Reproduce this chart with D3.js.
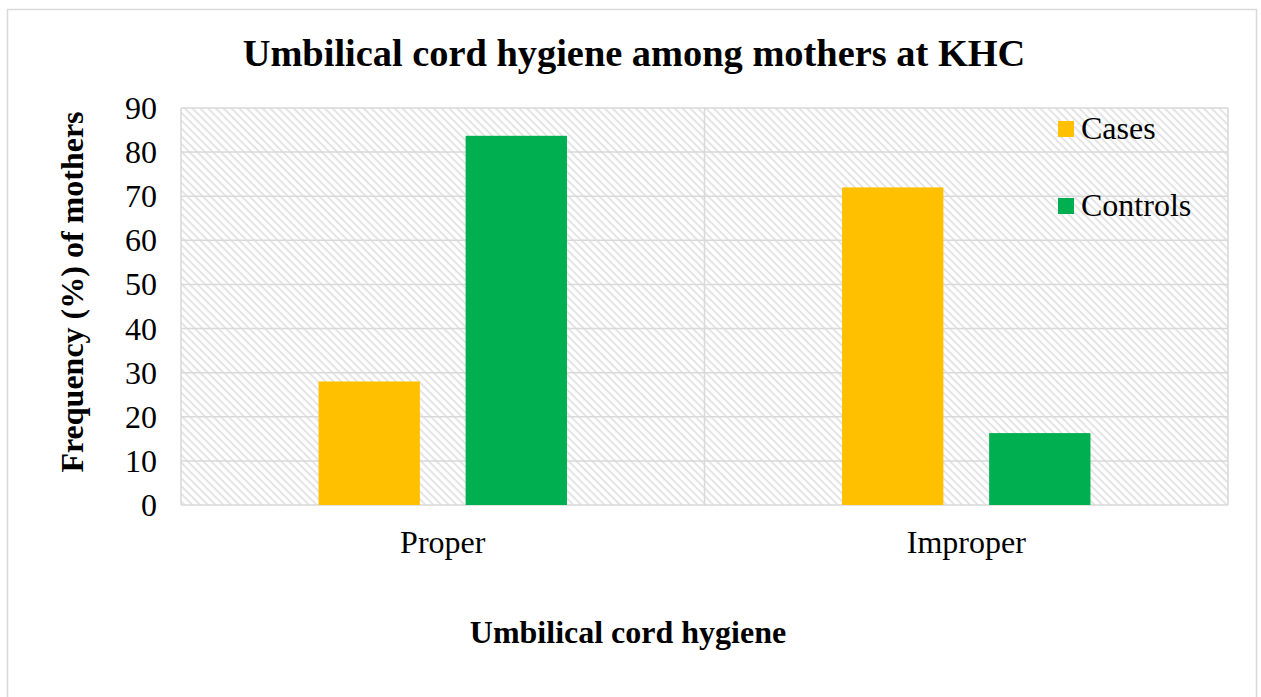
<!DOCTYPE html>
<html><head><meta charset="utf-8">
<script src="https://cdn.jsdelivr.net/npm/d3@7"></script>
<style>body{margin:0;background:#fff}svg{display:block}text{font-family:"Liberation Serif","Times New Roman",serif}</style>
</head><body><svg id="c" width="1261" height="697"></svg>
<script>
const categories = ["Proper", "Improper"];
const seriesNames = ["Cases", "Controls"];
const cases = [28, 72];
const controls = [83.7, 16.3];
const yTicks = [0,10,20,30,40,50,60,70,80,90];
const colors = ["#FFC000", "#00B050"];

const svg = d3.select("#c");
const m = {l:181, t:108, r:1228, b:505};
const defs = svg.append("defs");
const pat = defs.append("pattern").attr("id","hatch").attr("patternUnits","userSpaceOnUse")
  .attr("width",5.5).attr("height",5.5).attr("patternTransform","rotate(45)");
pat.append("rect").attr("width",5.5).attr("height",5.5).attr("fill","#ffffff");
pat.append("rect").attr("x",0).attr("y",0).attr("width",5.5).attr("height",2).attr("fill","#e4e4e4");

svg.append("rect").attr("x",7.5).attr("y",9.5).attr("width",1249).attr("height",700)
  .attr("fill","#fff").attr("stroke","#d9d9d9").attr("stroke-width",1.5);

const x0 = d3.scaleBand().domain(categories).range([m.l,m.r]);
const x1 = d3.scaleBand().domain(seriesNames).range([0,x0.bandwidth()]).paddingInner(0.311).paddingOuter(0.935);
const y = d3.scaleLinear().domain([0,90]).range([m.b,m.t]);

svg.append("rect").attr("x",m.l).attr("y",m.t).attr("width",m.r-m.l).attr("height",m.b-m.t).attr("fill","url(#hatch)");

const g = svg.append("g");
g.selectAll("line.h").data(yTicks).join("line")
  .attr("x1",m.l).attr("x2",m.r).attr("y1",d=>y(d)).attr("y2",d=>y(d))
  .attr("stroke","#d9d9d9").attr("stroke-width",1.5);
const vlines = [m.l, m.l + x0.bandwidth(), m.r];
g.selectAll("line.v").data(vlines).join("line")
  .attr("x1",d=>d).attr("x2",d=>d).attr("y1",m.t).attr("y2",m.b)
  .attr("stroke","#d9d9d9").attr("stroke-width",1.5);

const data = categories.map((c,i)=>({cat:c, vals:[cases[i], controls[i]]}));
const grp = svg.selectAll("g.cat").data(data).join("g").attr("transform",d=>`translate(${x0(d.cat)},0)`);
grp.selectAll("rect").data(d=>d.vals.map((v,j)=>({s:seriesNames[j],v,j}))).join("rect")
  .attr("x",d=>x1(d.s)).attr("width",x1.bandwidth())
  .attr("y",d=>y(d.v)).attr("height",d=>y(0)-y(d.v)).attr("fill",d=>colors[d.j]);

// y axis labels
svg.selectAll("text.yt").data(yTicks).join("text")
  .attr("x",157).attr("y",d=>y(d)+11).attr("text-anchor","end")
  .attr("font-size",32).attr("fill","#000").text(d=>d);
// x labels
svg.selectAll("text.xt").data(categories).join("text")
  .attr("x",d=>x0(d)+x0.bandwidth()/2).attr("y",553).attr("text-anchor","middle")
  .attr("font-size",32).attr("fill","#000").text(d=>d);

svg.append("text").attr("x",634).attr("y",66).attr("text-anchor","middle")
  .attr("font-size",38.4).attr("font-weight","bold").text("Umbilical cord hygiene among mothers at KHC");
svg.append("text").attr("x",628).attr("y",643).attr("text-anchor","middle")
  .attr("font-size",32).attr("font-weight","bold").text("Umbilical cord hygiene");
svg.append("text").attr("transform","translate(83,292) rotate(-90)").attr("text-anchor","middle")
  .attr("font-size",32).attr("font-weight","bold").text("Frequency (%) of mothers");

// legend
const lg = svg.selectAll("g.lg").data(seriesNames).join("g")
  .attr("transform",(d,i)=>`translate(1058,${121+i*77})`);
lg.append("rect").attr("width",16).attr("height",16).attr("fill",(d,i)=>colors[i]);
lg.append("text").attr("x",23).attr("y",18).attr("font-size",32).text(d=>d);
</script></body></html>
